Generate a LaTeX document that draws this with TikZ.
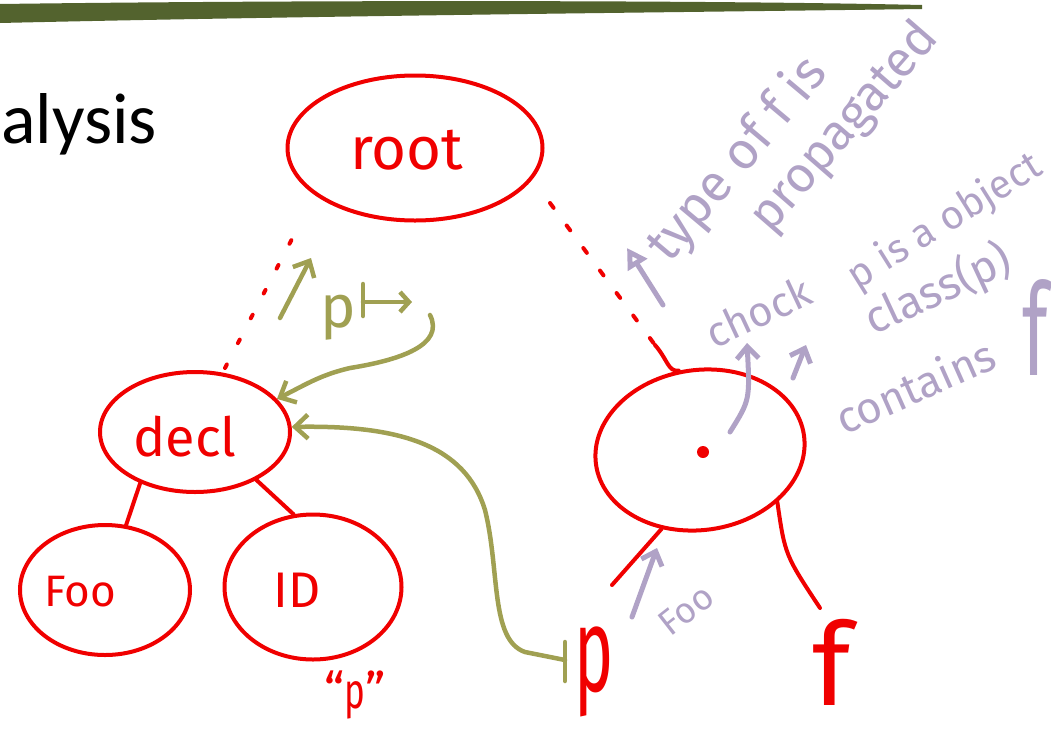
\documentclass[tikz,border=0pt]{standalone}
\usepackage{fontspec}
\setmainfont{Carlito}
\newfontfamily\hand{Fira Sans}
\usetikzlibrary{shapes.geometric,arrows.meta}
\definecolor{barolive}{RGB}{83,99,46}
\definecolor{olivepen}{RGB}{160,160,82}
\definecolor{lav}{RGB}{176,162,198}
\definecolor{pen}{RGB}{240,0,0}
\tikzset{
  tree/.style={ellipse, draw=pen, line width=4pt, inner sep=0pt},
  redtxt/.style={text=pen, inner sep=0pt, font=\hand\fontsize{#1}{#1}\selectfont},
  lavtxt/.style={text=lav, inner sep=0pt, font=\hand\fontsize{#1}{#1}\selectfont},
  olvtxt/.style={text=olivepen, inner sep=0pt, font=\hand\fontsize{#1}{#1}\selectfont},
  edge/.style={draw=pen, line width=4pt, line cap=round},
  dots/.style={draw=pen, line width=4pt, line cap=round, dash pattern=on 4pt off 24pt},
  oarrow/.style={draw=olivepen, line width=4.5pt, line cap=round, -{Straight Barb[length=13pt,width=24pt,line width=4.5pt]}},
  larrow/.style={draw=lav, line width=5pt, line cap=round, -{Straight Barb[length=12pt,width=22pt,line width=5pt]}},
}
\begin{document}
\begin{tikzpicture}[x=1pt,y=-1pt]
\useasboundingbox (0,0) rectangle (1051,737);
% title bar
\fill[barolive] (0,4) .. controls (300,0) and (700,0) .. (922,5) -- (922,9)
  .. controls (700,12) and (300,16) .. (0,23) -- cycle;
\node[anchor=base west, inner sep=0pt, font=\fontsize{72}{72}\selectfont] (title) at (1,143) {alysis};

% tree nodes
\node[tree, minimum width=255pt, minimum height=145pt] (root) at (415,148) {};
\node[tree, minimum width=190pt, minimum height=120pt] (decl) at (195,432) {};
\node[tree, minimum width=170pt, minimum height=130pt] (foo) at (105,590) {};
\node[tree, minimum width=177pt, minimum height=145pt] (id) at (313,587) {};
\node[tree, minimum width=210pt, minimum height=160pt, rotate=8] (obj) at (700,450) {};
\fill[pen] (703,452) circle (6pt);

\node[redtxt=60] (roottxt) at (407,150) {root};
\node[redtxt=54] (decltxt) at (185,437) {decl};
\node[redtxt=44] (footxt) at (80,592) {Foo};
\node[redtxt=50] (idtxt) at (297,590) {ID};
\node[redtxt=50] (pq) at (355,695) {“\scalebox{0.7}[1]{p}”};
\node[redtxt=115] (f) at (832,662) {f};
\node[redtxt=120] (p) at (594,672) {\scalebox{0.55}[1]{p}};

% tree edges
\draw[edge] (decl.223) -- (foo.72);
\draw[edge] (decl.322) -- (id.105);
\coordinate (ol) at (612,585);
\coordinate (or) at (820,608);
\draw[edge] (obj.236) -- (ol);
\draw[edge] (obj.318) .. controls (785,555) .. (or);

% dotted links to root
\coordinate (d1) at (225,368);
\coordinate (d2) at (293,237);
\draw[dots] (d1) -- (d2);
\coordinate (e1) at (550,203);
\coordinate (e2) at (655,345);
\draw[edge, dash pattern=on 6pt off 22pt] (e1) -- (e2);
\draw[edge] (e2) .. controls (668,360) and (668,372) .. (obj.97);

% olive annotations
\coordinate (ua) at (280,318);
\coordinate (ub) at (311,258);
\draw[oarrow] (ua) -- (ub);
\node[olvtxt=60, anchor=base west] (pmap) at (320,327) {p};
\coordinate (m1) at (363,302);
\coordinate (m2) at (412,302);
\draw[draw=olivepen, line width=4.5pt, line cap=round] (363,284) -- (363,316);
\draw[draw=olivepen, line width=4.5pt, line cap=round, -{Straight Barb[length=9pt,width=20pt,line width=4.5pt]}] (m1) -- (m2);
\coordinate (c1) at (430,315);
\draw[oarrow] (c1) .. controls (445,345) and (400,360) .. (350,368) .. controls (320,375) and (305,385) .. (decl.22);
\coordinate (pb) at (565,660);
\draw[draw=olivepen, line width=4.5pt, line cap=round] (565,642) -- (565,681);
\draw[oarrow] (pb) -- (525,652) .. controls (490,640) and (500,570) .. (485,510)
  .. controls (465,445) and (400,425) .. (decl.3);

% lavender annotations
\coordinate (ta) at (663,305);
\coordinate (tb) at (627,248);
\draw[draw=lav, line width=5pt, line cap=round, -{Triangle[open, length=20pt, width=22pt, line width=5pt]}] (ta) -- (tb);
\node[lavtxt=52, rotate=50] (type) at (738,160) {type of f is};
\node[lavtxt=50, rotate=49] (prop) at (845,128) {propagated};
\node[lavtxt=42, rotate=25] (chock) at (758,312) {chock};
\node[lavtxt=40, rotate=32] (pis) at (945,222) {p is a object};
\node[lavtxt=45, rotate=25] (cls) at (938,290) {class(p)};
\node[lavtxt=44, rotate=24] (cont) at (915,386) {contains};
\node[lavtxt=128] (lf) at (1035,327) {\scalebox{0.6}[1]{f}};
\coordinate (ca) at (730,432);
\coordinate (cb) at (747,343);
\draw[larrow] (ca) .. controls (750,400) .. (cb);
\coordinate (ka) at (793,378);
\coordinate (kb) at (806,345);
\draw[larrow] (ka) -- (kb);
\coordinate (fa) at (632,617);
\coordinate (fb) at (657,548);
\draw[larrow] (fa) -- (fb);
\node[lavtxt=36, rotate=38] (foo2) at (686,610) {Foo};
\end{tikzpicture}
\end{document}
